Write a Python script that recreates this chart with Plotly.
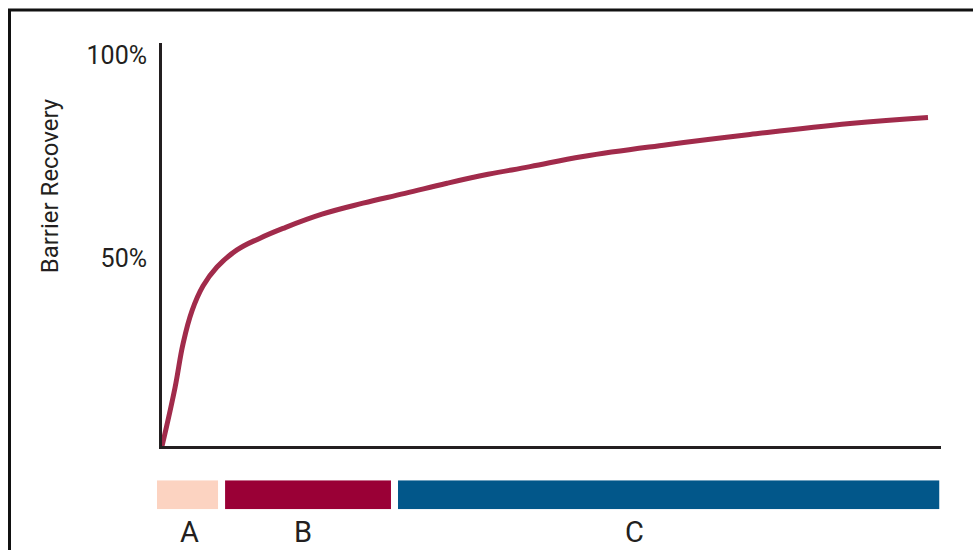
import plotly.graph_objects as go

# Recovery curve (time in arbitrary units, recovery in %)
time_pts = [0, 1.67, 2.70, 3.85, 5.26, 7.06, 9.63, 12.58, 15.53, 20.54, 25.80,
            31.19, 36.59, 41.85, 47.24, 54.04, 64.83, 75.48, 88.32, 98.33]
recovery = [3.7, 18.1, 28.9, 37.0, 43.1, 47.8, 52.0, 54.9, 57.3, 60.8, 63.5,
            65.9, 68.4, 70.6, 72.5, 75.0, 77.9, 80.4, 83.1, 84.6]

# Phase strip below the chart
phases = ["A", "B", "C"]
phase_start = [0, 8.7, 30.8]
phase_end = [7.8, 29.9, 100]
phase_label_pos = [4.2, 18.7, 61.0]
phase_colors = ["#FCD3C1", "#9A0036", "#02578A"]

tick_vals = [50, 100]
tick_text = ["50%", "100%"]

W, H = 973, 550
FONT = "Roboto, Liberation Sans, sans-serif"
TXT = "#231F20"

fig = go.Figure()

fig.add_trace(go.Scatter(
    x=time_pts, y=recovery, mode="lines",
    line=dict(color="#A12B4B", width=5, shape="spline", smoothing=1.2),
    hoverinfo="skip", showlegend=False,
))

fig.add_trace(go.Bar(
    x=[e - s for s, e in zip(phase_start, phase_end)],
    base=phase_start,
    y=[0, 0, 0],
    orientation="h",
    width=1,
    marker=dict(color=phase_colors, line=dict(width=0)),
    xaxis="x2", yaxis="y2",
    hoverinfo="skip", showlegend=False,
))

for lab, pos in zip(phases, phase_label_pos):
    fig.add_annotation(
        x=pos, xref="x2", y=1 - 532 / H, yref="paper",
        text=lab, showarrow=False,
        font=dict(family=FONT, size=29, color=TXT),
        xanchor="center", yanchor="middle",
    )

fig.add_annotation(
    x=50 / W, xref="paper", y=1 - 185 / H, yref="paper",
    text="Barrier Recovery", textangle=-90, showarrow=False,
    font=dict(family=FONT, size=24, color=TXT),
    xanchor="center", yanchor="middle",
)

# Outer frame (left and top edges visible)
fig.add_shape(
    type="rect", xref="paper", yref="paper",
    x0=9.5 / W, x1=1.05, y0=-0.05, y1=1 - 8 / H,
    line=dict(color="#111111", width=3), fillcolor="rgba(0,0,0,0)",
)

fig.update_layout(
    width=W, height=H,
    margin=dict(l=0, r=0, t=0, b=0),
    paper_bgcolor="white", plot_bgcolor="white",
    font=dict(family=FONT, color=TXT),
    xaxis=dict(
        domain=[162 / W, 941 / W], range=[0, 100],
        showline=True, linecolor="#231F20", linewidth=3,
        showgrid=False, zeroline=False, showticklabels=False, ticks="",
    ),
    yaxis=dict(
        domain=[1 - 446 / H, 1 - 41 / H], range=[3.68, 102.94],
        showline=True, linecolor="#231F20", linewidth=3,
        showgrid=False, zeroline=False, ticks="",
        tickvals=tick_vals, ticktext=tick_text,
        tickfont=dict(family=FONT, size=25, color=TXT),
        ticklabelstandoff=7,
    ),
    xaxis2=dict(
        domain=[157 / W, 939.5 / W], range=[0, 100], anchor="y2",
        showline=False, showgrid=False, zeroline=False,
        showticklabels=False, ticks="",
    ),
    yaxis2=dict(
        domain=[1 - 509 / H, 1 - 480 / H], range=[-0.5, 0.5], anchor="x2",
        showline=False, showgrid=False, zeroline=False,
        showticklabels=False, ticks="",
    ),
)

fig.write_html("out.html")
